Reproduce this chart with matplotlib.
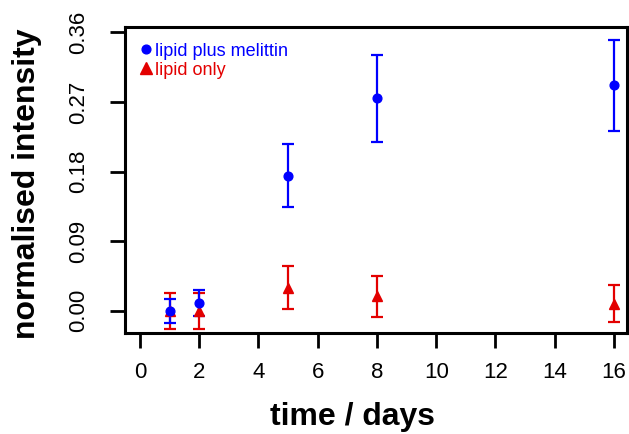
import matplotlib
matplotlib.use('Agg')
import matplotlib.pyplot as plt
from matplotlib.lines import Line2D

plt.rcParams['font.family'] = ['Liberation Sans', 'DejaVu Sans']

# data
days = [1, 2, 5, 8, 16]
melittin = [0.000, 0.0104, 0.1745, 0.2745, 0.2915]
melittin_err = [0.0155, 0.0166, 0.041, 0.0565, 0.0585]
lipid = [0.0, -0.0006, 0.030, 0.0185, 0.0093]
lipid_err = [0.023, 0.023, 0.0275, 0.026, 0.0245]

x_ticks = [0, 2, 4, 6, 8, 10, 12, 14, 16]
y_ticks = [0.00, 0.09, 0.18, 0.27, 0.36]

blue = '#0000ff'
red = '#e30000'

fig = plt.figure(figsize=(6.29, 4.34), dpi=100)
ax = fig.add_axes([125/629, 1 - 333/434, (627-125)/629, (333-27)/434])

ax.errorbar(days, lipid, yerr=lipid_err, fmt='^', color=red, ms=6.8,
            elinewidth=1.6, capsize=4.6, capthick=1.6)
ax.errorbar(days, melittin, yerr=melittin_err, fmt='o', color=blue, ms=6.3,
            elinewidth=1.6, capsize=4.6, capthick=1.6)

ax.set_xlim(-0.506, 16.44)
ax.set_ylim(-0.0288, 0.3669)
ax.set_xticks(x_ticks)
ax.set_xticklabels([str(v) for v in x_ticks])
ax.set_yticks(y_ticks)
ax.set_yticklabels(['%.2f' % v for v in y_ticks], rotation=90, va='center')

ax.tick_params(axis='both', length=11, width=2, labelsize=16, color='black')
ax.tick_params(axis='x', pad=10)
ax.tick_params(axis='y', pad=15)
for s in ax.spines.values():
    s.set_linewidth(2.2)

handles = [Line2D([], [], marker='o', color=blue, ls='none', ms=6.3),
           Line2D([], [], marker='^', color=red, ls='none', ms=8)]
leg = ax.legend(handles, ['lipid plus melittin', 'lipid only'], loc='upper left',
                bbox_to_anchor=(0.006, 0.99),
                frameon=False, fontsize=13, handlelength=0.6, handletextpad=0.2,
                labelspacing=0.1, borderaxespad=0.4, borderpad=0.3)
for txt, c in zip(leg.get_texts(), [blue, red]):
    txt.set_color(c)

fig.text(352/629, 1 - 417/434, 'time / days', ha='center', va='center',
         fontsize=23, fontweight='bold')
fig.text(27/629, 1 - 184/434, 'normalised intensity', ha='center', va='center',
         rotation=90, fontsize=23, fontweight='bold')

fig.savefig('out.png', dpi=100)
